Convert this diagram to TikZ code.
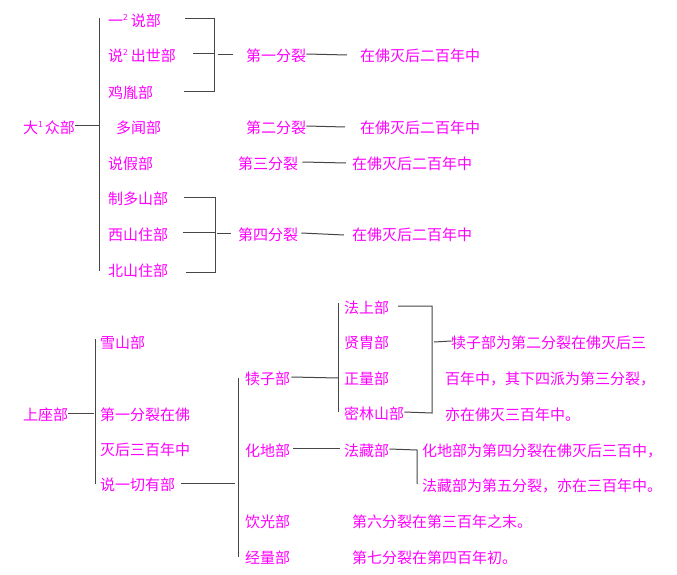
\documentclass[tikz,border=0pt]{standalone}
\usepackage{fontspec}
\setmainfont{Noto Sans CJK SC}
\definecolor{txt}{RGB}{255,0,255}
\definecolor{ln}{RGB}{70,70,70}
\tikzset{
  lbl/.style={anchor=west,inner sep=0pt,text=txt,font=\fontsize{15pt}{15pt}\selectfont,text height=16.5pt,text depth=0.6pt},
  conn/.style={draw=ln,line width=1pt},
}
\newcommand{\sq}[1]{\raisebox{0.4em}{\fontsize{8.5pt}{8.5pt}\selectfont #1}}
\begin{document}
\begin{tikzpicture}[x=1pt,y=-1pt]
\useasboundingbox (0,0) rectangle (677,575);
\fill[white] (0,0) rectangle (677,575);
% ---------- top section ----------
\node[lbl] (dz) at (23,126) {大\sq{1}\hspace{2pt}众部};
\node[lbl] (a1) at (108,19) {一\sq{2}\hspace{3pt}说部};
\node[lbl] (a2) at (108,54) {说\sq{2}\hspace{3pt}出世部};
\node[lbl] (a3) at (108,91) {鸡胤部};
\node[lbl] (a4) at (116,126) {多闻部};
\node[lbl] (a5) at (108,162) {说假部};
\node[lbl] (a6) at (108,197) {制多山部};
\node[lbl] (a7) at (108,233) {西山住部};
\node[lbl] (a8) at (108,269) {北山住部};
\node[lbl] (f1) at (246,54) {第一分裂};
\node[lbl] (f2) at (246,126) {第二分裂};
\node[lbl] (f3) at (238,162) {第三分裂};
\node[lbl] (f4) at (238,233) {第四分裂};
\node[lbl] (t1) at (360,54) {在佛灭后二百年中};
\node[lbl] (t2) at (360,126) {在佛灭后二百年中};
\node[lbl] (t3) at (352,162) {在佛灭后二百年中};
\node[lbl] (t4) at (352,233) {在佛灭后二百年中};
\coordinate (sp1t) at (99,18);
\coordinate (sp1b) at (99,271);
\draw[conn] (sp1t) -- (sp1b);
\draw[conn] (dz.east) -- (sp1t |- dz.east);
% bracket 1
\coordinate (b1t) at (214,19);
\coordinate (b1b) at (214,92);
\draw[conn] (185,19) -- (b1t) -- (b1b) -- (184,92);
\draw[conn] (193,54) -- (214,54);
\draw[conn] (218,55) -- (233,55);
\draw[conn] (f1.east) -- (347,55);
\draw[conn] (f2.east) -- (345,127);
\draw[conn] ([xshift=4pt]f3.east) -- (346,163);
% bracket 4
\coordinate (b4t) at (215,197);
\coordinate (b4b) at (215,272);
\draw[conn] (184,197) -- (b4t) -- (b4b) -- (186,272);
\draw[conn] (183,232) -- (215,232);
\draw[conn] (217,233) -- (231,233);
\draw[conn] ([xshift=3pt]f4.east) -- (344,235);
% ---------- bottom section ----------
\node[lbl] (szb) at (23,413) {上座部};
\node[lbl] (b1) at (100,341) {雪山部};
\node[lbl] (b2) at (100,413) {第一分裂在佛};
\node[lbl] (b3) at (100,448) {灭后三百年中};
\node[lbl] (b4) at (100,483) {说一切有部};
\node[lbl] (c1) at (245,377) {犊子部};
\node[lbl] (c2) at (245,449) {化地部};
\node[lbl] (c3) at (245,520) {饮光部};
\node[lbl] (c4) at (245,556) {经量部};
\node[lbl] (d1) at (344,306) {法上部};
\node[lbl] (d2) at (344,341) {贤胄部};
\node[lbl] (d3) at (344,377) {正量部};
\node[lbl] (d4) at (344,412) {密林山部};
\node[lbl] (d5) at (344,449) {法藏部};
\node[lbl] (n1) at (451,341) {犊子部为第二分裂在佛灭后三};
\node[lbl] (n2) at (445,377) {百年中，其下四派为第三分裂，};
\node[lbl] (n3) at (445,413) {亦在佛灭三百年中。};
\node[lbl] (n4) at (422,449) {化地部为第四分裂在佛灭后三百中，};
\node[lbl] (n5) at (422,484) {法藏部为第五分裂，亦在三百年中。};
\node[lbl] (n6) at (352,520) {第六分裂在第三百年之末。};
\node[lbl] (n7) at (352,556) {第七分裂在第四百年初。};
\coordinate (sp2t) at (95,339);
\coordinate (sp2b) at (95,484);
\draw[conn] (sp2t) -- (sp2b);
\draw[conn] (szb.east) -- (94,413);
\coordinate (sp3t) at (238,378);
\coordinate (sp3b) at (238,557);
\draw[conn] (sp3t) -- (sp3b);
\draw[conn] (181,483) -- (235,483);
\coordinate (sp4t) at (338,303);
\coordinate (sp4b) at (338,412);
\draw[conn] (sp4t) -- (sp4b);
\draw[conn] ([xshift=1pt]c1.east) -- (338,378);
\draw[conn] (293,448) -- (340,448);
\coordinate (b5t) at (432,306);
\coordinate (b5b) at (432,413);
\draw[conn] (398,306) -- (b5t) -- (b5b) -- (d4.east);
\draw[conn] (434,342) -- (n1.west);
\coordinate (b6) at (417,450);
\draw[conn] (d5.east) -- (b6) -- (417,484);
\end{tikzpicture}
\end{document}
